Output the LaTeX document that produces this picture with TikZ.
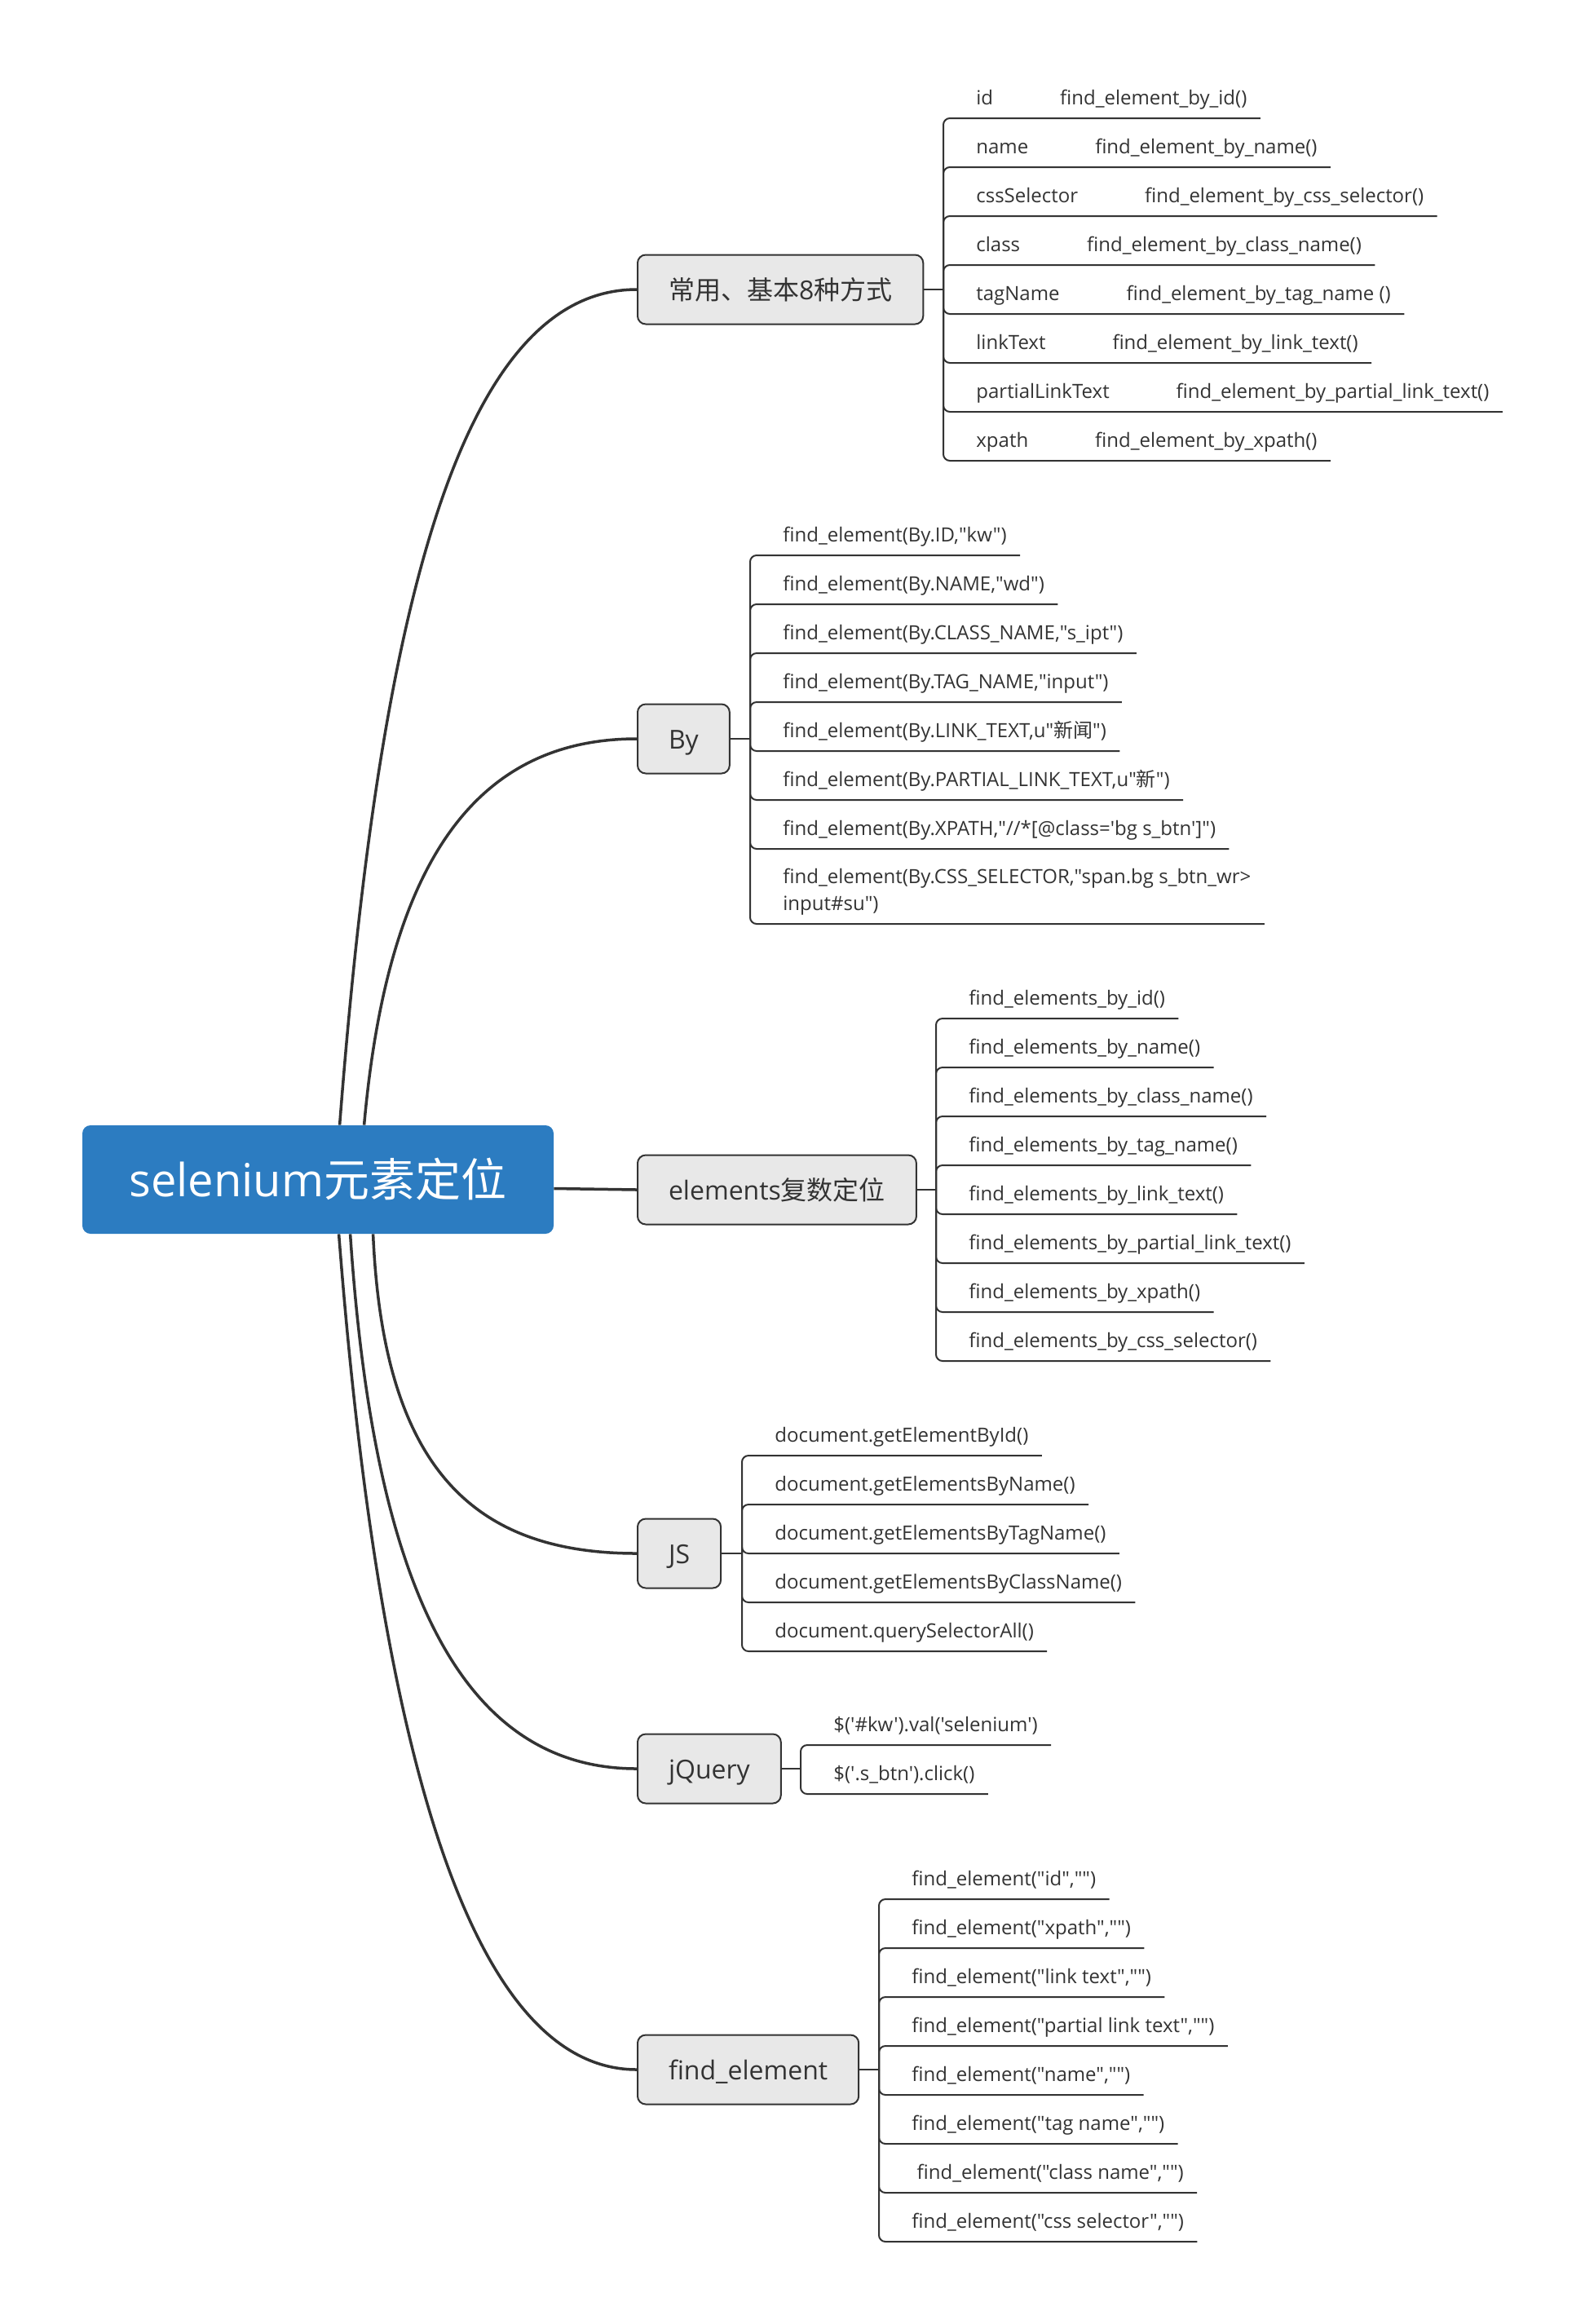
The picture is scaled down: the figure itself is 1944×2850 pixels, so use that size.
\documentclass[tikz,border=0pt]{standalone}
\usepackage{fontspec}
\setmainfont{Open Sans}[Ligatures=TeXOff]
\newfontfamily\zhfont{Noto Sans CJK SC}
\newcommand\zh[1]{{\zhfont #1}}
\usetikzlibrary{calc}
\definecolor{rootblue}{RGB}{44,124,193}
\definecolor{linegray}{RGB}{51,51,51}
\definecolor{boxgray}{RGB}{232,232,232}

\begin{document}
\begin{tikzpicture}[x=0.5pt, y=-0.5pt,
  rootbox/.style={fill=rootblue, text=white, rounded corners=5pt, minimum width=289pt, minimum height=66.5pt, inner sep=0pt, font=\fontsize{28pt}{34pt}\selectfont},
  topic/.style={draw=linegray, line width=1pt, fill=boxgray, text=linegray, rounded corners=5pt, anchor=west, minimum height=42.5pt, inner xsep=19pt, text height=14pt, text depth=2pt, font=\fontsize{16pt}{20pt}\selectfont},
  leaf/.style={anchor=south west, inner xsep=8pt, inner ysep=0pt, text height=9pt, text depth=8pt, text=linegray, font=\fontsize{12pt}{16.5pt}\selectfont},
  branch/.style={draw=linegray, line width=1.75pt},
  twig/.style={draw=linegray, line width=1pt, rounded corners=4pt}]
\useasboundingbox (0,0) rectangle (1944,2850);

\node[rootbox] (root) at (390,1446.5) {selenium\zh{元素定位}};

\node[topic] (basic) at (781,355) {\zh{常用、基本}8\zh{种方式}};
\node[topic] (by) at (781,906) {By};
\node[topic] (plural) at (781,1459) {elements\zh{复数定位}};
\node[topic] (js) at (781,1905) {JS};
\node[topic] (jq) at (781,2169) {jQuery};
\node[topic] (fe) at (781,2538) {find\_element};

\draw[branch] ($(root.north west)+(316,0)$) .. controls (461,806) and (550,355) .. (basic.west);
\draw[branch] ($(root.north west)+(346,0)$) .. controls (474,1073) and (574,906) .. (by.west);
\draw[branch] ($(root.east)+(0,11)$) -- (plural.west);
\draw[branch] ($(root.south west)+(357,0)$) .. controls (470,1800) and (580,1905) .. (js.west);
\draw[branch] ($(root.south west)+(329,0)$) .. controls (458,1940) and (563,2169) .. (jq.west);
\draw[branch] ($(root.south west)+(315,0)$) .. controls (460,2087) and (562,2538) .. (fe.west);

\coordinate (jbasic) at (1157,355);
\draw[twig] (basic.east) -- (jbasic);
\foreach \t [count=\i from 0] in {
  {id\hspace{41pt}find\_element\_by\_id()},
  {name\hspace{41pt}find\_element\_by\_name()},
  {cssSelector\hspace{41pt}find\_element\_by\_css\_selector()},
  {class\hspace{41pt}find\_element\_by\_class\_name()},
  {tagName\hspace{41pt}find\_element\_by\_tag\_name ()},
  {linkText\hspace{41pt}find\_element\_by\_link\_text()},
  {partialLinkText\hspace{41pt}find\_element\_by\_partial\_link\_text()},
  {xpath\hspace{41pt}find\_element\_by\_xpath()}}{
  \node[leaf] (basic-\i) at (1181,145+60*\i) {\t};
  \draw[twig] (jbasic) |- (basic-\i.south west) -- (basic-\i.south east);
}

\coordinate (jby) at (920,906);
\draw[twig] (by.east) -- (jby);
\foreach \t [count=\i from 0] in {
  {find\_element(By.ID,"kw")},
  {find\_element(By.NAME,"wd")},
  {find\_element(By.CLASS\_NAME,"s\_ipt")},
  {find\_element(By.TAG\_NAME,"input")},
  {find\_element(By.LINK\_TEXT,u"\zh{新闻}")},
  {find\_element(By.PARTIAL\_LINK\_TEXT,u"\zh{新}")},
  {find\_element(By.XPATH,"//*[@class='bg s\_btn']")}}{
  \node[leaf] (by-\i) at (944,681+60*\i) {\t};
  \draw[twig] (jby) |- (by-\i.south west) -- (by-\i.south east);
}
\node[leaf, align=left] (by-7) at (944,1133) {find\_element(By.CSS\_SELECTOR,"span.bg s\_btn\_wr>\\input\#su")};
\draw[twig] (jby) |- (by-7.south west) -- (by-7.south east);

\coordinate (jplural) at (1148,1459);
\draw[twig] (plural.east) -- (jplural);
\foreach \t [count=\i from 0] in {
  {find\_elements\_by\_id()},
  {find\_elements\_by\_name()},
  {find\_elements\_by\_class\_name()},
  {find\_elements\_by\_tag\_name()},
  {find\_elements\_by\_link\_text()},
  {find\_elements\_by\_partial\_link\_text()},
  {find\_elements\_by\_xpath()},
  {find\_elements\_by\_css\_selector()}}{
  \node[leaf] (plural-\i) at (1172,1249+60*\i) {\t};
  \draw[twig] (jplural) |- (plural-\i.south west) -- (plural-\i.south east);
}

\coordinate (jjs) at (910,1905);
\draw[twig] (js.east) -- (jjs);
\foreach \t [count=\i from 0] in {
  {document.getElementById()},
  {document.getElementsByName()},
  {document.getElementsByTagName()},
  {document.getElementsByClassName()},
  {document.querySelectorAll()}}{
  \node[leaf] (js-\i) at (934,1785+60*\i) {\t};
  \draw[twig] (jjs) |- (js-\i.south west) -- (js-\i.south east);
}

\coordinate (jjq) at (982,2169);
\draw[twig] (jq.east) -- (jjq);
\foreach \t [count=\i from 0] in {
  {\$('\#kw').val('selenium')},
  {\$('.s\_btn').click()}}{
  \node[leaf] (jq-\i) at (1006,2140+60*\i) {\t};
  \draw[twig] (jjq) |- (jq-\i.south west) -- (jq-\i.south east);
}

\coordinate (jfe) at (1078,2538);
\draw[twig] (fe.east) -- (jfe);
\foreach \t [count=\i from 0] in {
  {find\_element("id","")},
  {find\_element("xpath","")},
  {find\_element("link text","")},
  {find\_element("partial link text","")},
  {find\_element("name","")},
  {find\_element("tag name","")},
  {~find\_element("class name","")},
  {find\_element("css selector","")}}{
  \node[leaf] (fe-\i) at (1102,2329+60*\i) {\t};
  \draw[twig] (jfe) |- (fe-\i.south west) -- (fe-\i.south east);
}
\end{tikzpicture}
\end{document}
